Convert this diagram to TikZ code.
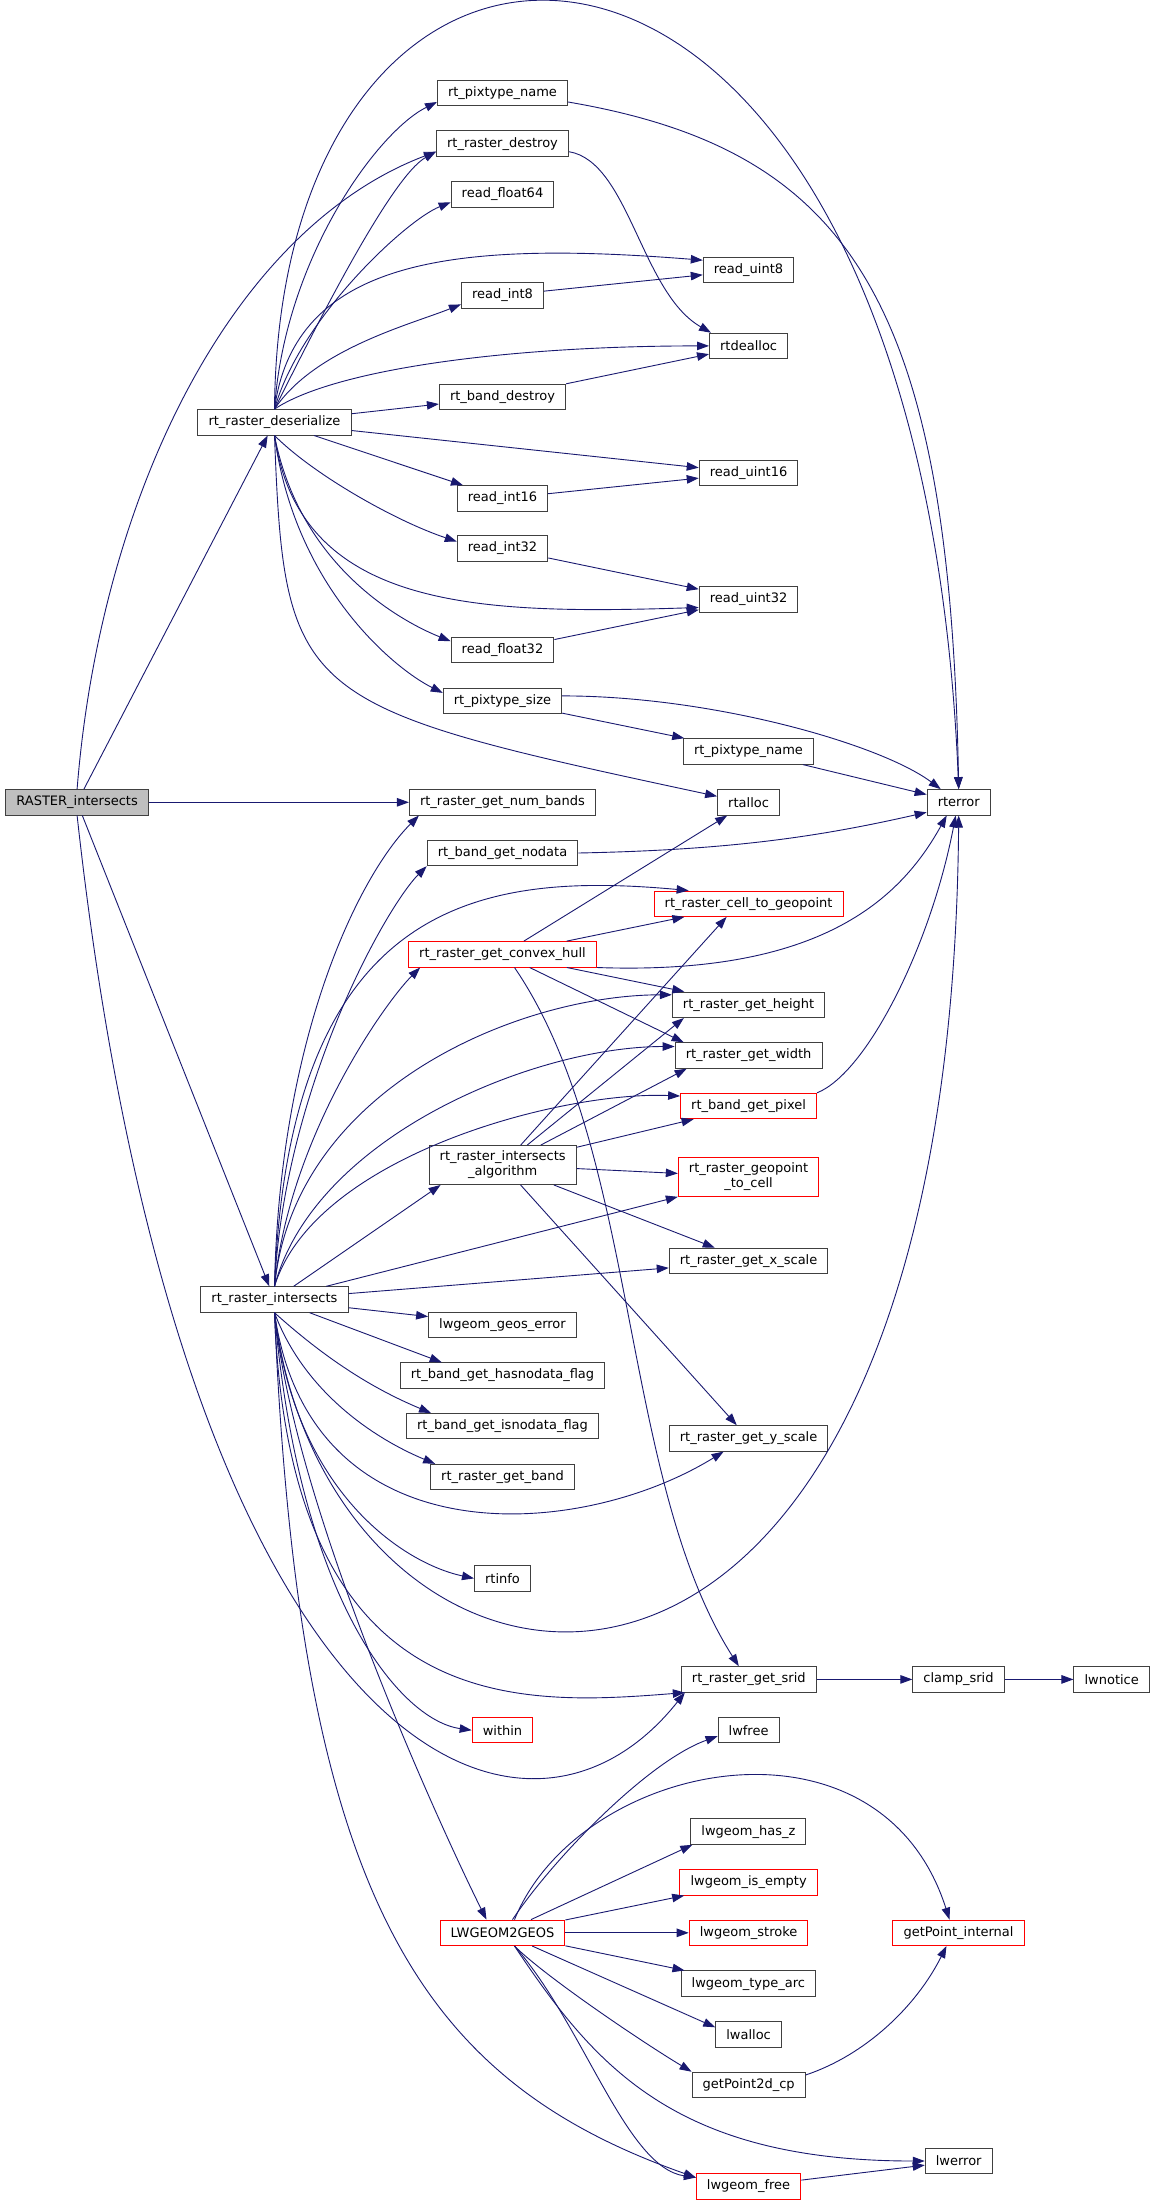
\documentclass[tikz,border=0pt]{standalone}
\usepackage{fontspec}
\setmainfont{DejaVu Sans}
\RequirePackage{xcolor}
\usetikzlibrary{arrows.meta}

\definecolor{edgeblue}{RGB}{25,25,112}
\definecolor{boxgray}{RGB}{191,191,191}

\tikzset{
  fn/.style={draw=black!75, line width=1pt, fill=white, inner xsep=10.6pt, inner ysep=2pt,
    minimum height=25.4pt, font=\fontsize{13}{15}\selectfont, align=center},
  fnred/.style={fn, draw=red},
  fncur/.style={fn, fill=boxgray},
  twoline/.style={inner ysep=5.5pt},
  calls/.style={draw=edgeblue, line width=0.9pt, -{Triangle[length=12pt,width=8.5pt]}},
}

\begin{document}
\begin{tikzpicture}[x=1pt,y=-1pt]
  \path[fill=white, use as bounding box] (0,0) rectangle (1156,2205);

  % callers
  \node[fncur] (ri) at (77.1,802.3) {RASTER\_intersects};
  \node[fn] (des) at (274.5,422.3) {rt\_raster\_deserialize};
  \node[fn] (inter) at (274.5,1299.5) {rt\_raster\_intersects};

  % second column
  \node[fn] (pnA) at (502.5,93) {rt\_pixtype\_name};
  \node[fn] (rdes) at (502.5,143.7) {rt\_raster\_destroy};
  \node[fn] (rf64) at (502.5,194.3) {read\_float64};
  \node[fn] (ri8) at (502.5,295.4) {read\_int8};
  \node[fn] (bdes) at (502.5,397) {rt\_band\_destroy};
  \node[fn] (ri16) at (502.5,498.4) {read\_int16};
  \node[fn] (ri32) at (502.5,548.5) {read\_int32};
  \node[fn] (rf32) at (502.5,650.2) {read\_float32};
  \node[fn] (psize) at (502.5,700.9) {rt\_pixtype\_size};
  \node[fn] (nb) at (502.5,802.3) {rt\_raster\_get\_num\_bands};
  \node[fn] (nodata) at (502.5,853) {rt\_band\_get\_nodata};
  \node[fnred] (hull) at (502.5,954.3) {rt\_raster\_get\_convex\_hull};
  \node[fn,twoline] (algo) at (502.7,1165) {rt\_raster\_intersects\\\_algorithm};
  \node[fn] (geoserr) at (502.5,1324.8) {lwgeom\_geos\_error};
  \node[fn] (hasnd) at (502.5,1375.5) {rt\_band\_get\_hasnodata\_flag};
  \node[fn] (isnd) at (502.5,1426.2) {rt\_band\_get\_isnodata\_flag};
  \node[fn] (band) at (502.5,1477) {rt\_raster\_get\_band};
  \node[fn] (info) at (502.5,1578.4) {rtinfo};
  \node[fnred] (within) at (502.5,1730.2) {within};
  \node[fnred] (l2g) at (502.5,1932.8) {LWGEOM2GEOS};

  % third column
  \node[fn] (ru8) at (748.5,270.2) {read\_uint8};
  \node[fn] (dealloc) at (748.6,345.9) {rtdealloc};
  \node[fn] (ru16) at (748.6,473) {read\_uint16};
  \node[fn] (ru32) at (748.6,599.5) {read\_uint32};
  \node[fn] (pnB) at (748.5,751.4) {rt\_pixtype\_name};
  \node[fn] (alloc) at (748.6,802.3) {rtalloc};
  \node[fnred] (c2g) at (748.6,903.7) {rt\_raster\_cell\_to\_geopoint};
  \node[fn] (height) at (748.6,1004.8) {rt\_raster\_get\_height};
  \node[fn] (width) at (748.6,1055.5) {rt\_raster\_get\_width};
  \node[fnred] (pixel) at (748.6,1106) {rt\_band\_get\_pixel};
  \node[fnred,twoline] (g2c) at (748.6,1176.8) {rt\_raster\_geopoint\\\_to\_cell};
  \node[fn] (xs) at (748.6,1260.9) {rt\_raster\_get\_x\_scale};
  \node[fn] (ys) at (748.6,1438.4) {rt\_raster\_get\_y\_scale};
  \node[fn] (srid) at (748.8,1679.4) {rt\_raster\_get\_srid};
  \node[fn] (lwfree) at (748.6,1730.2) {lwfree};
  \node[fn] (hasz) at (748.4,1831.6) {lwgeom\_has\_z};
  \node[fnred] (isempty) at (748.6,1882.4) {lwgeom\_is\_empty};
  \node[fnred] (stroke) at (748.6,1932.8) {lwgeom\_stroke};
  \node[fn] (arc) at (748.4,1983.6) {lwgeom\_type\_arc};
  \node[fn] (lwalloc) at (748.6,2034.3) {lwalloc};
  \node[fn] (gp2d) at (748.7,2084.9) {getPoint2d\_cp};
  \node[fnred] (lgfree) at (748.6,2186.5) {lwgeom\_free};

  % right columns
  \node[fn] (err) at (958.7,802.3) {rterror};
  \node[fn] (clamp) at (958.5,1679.4) {clamp\_srid};
  \node[fnred] (gpi) at (958.5,1932.8) {getPoint\_internal};
  \node[fn] (lwerror) at (958.7,2161) {lwerror};
  \node[fn] (notice) at (1111.7,1679.4) {lwnotice};

  % straight calls
  \foreach \a/\b in {ri/des, ri/nb, ri/inter, des/bdes, des/ru16, des/ri16, ri8/ru8,
      bdes/dealloc, ri16/ru16, ri32/ru32, rf32/ru32, psize/pnB, pnB/err, hull/alloc,
      hull/c2g, hull/height, algo/pixel, algo/g2c, algo/xs, algo/ys, inter/geoserr,
      l2g/isempty, l2g/stroke, l2g/arc, lgfree/lwerror, srid/clamp, clamp/notice}
    \draw[calls] (\a) -- (\b);

  \draw[calls] (hull) -- ([xshift=9pt]width.north west);
  \draw[calls] (algo) -- ([xshift=-22pt]c2g.south);
  \draw[calls] (algo) -- ([xshift=12pt]height.south west);
  \draw[calls] (algo) -- ([xshift=12pt]width.south west);
  \draw[calls] (inter) -- ([xshift=12pt]algo.south west);
  \draw[calls] (inter) -- (g2c.south west);
  \draw[calls] (inter) -- ([yshift=-7pt]xs.west);
  \draw[calls] (inter) -- ([xshift=42pt]hasnd.north west);
  \draw[calls] (l2g) -- ([xshift=2pt]hasz.south west);
  \draw[calls] (l2g) -- ([yshift=7pt]lwalloc.west);

  % rt_raster_deserialize
  \draw[calls] (des.north) .. controls +(5,-600) and +(-40,-970) .. (err.north);
  \draw[calls] (des.north) .. controls +(10,-150) and +(-60,30) .. ([yshift=-9pt]pnA.west);
  \draw[calls] (des.north) .. controls +(40,-80) and +(-45,25) .. ([yshift=-8pt]rdes.west);
  \draw[calls] (des.north) .. controls +(25,-90) and +(-45,18) .. ([yshift=-8pt]rf64.west);
  \draw[calls] (des.north) .. controls +(20,-150) and +(-250,-20) .. ([yshift=10pt]ru8.west);
  \draw[calls] (des.north) .. controls +(40,-60) and +(-50,20) .. ([yshift=-9pt]ri8.west);
  \draw[calls] (des.north) .. controls +(60,-40) and +(-200,0) .. (dealloc.west);
  \draw[calls] (des.south) .. controls +(40,40) and +(-60,-20) .. ([yshift=7pt]ri32.west);
  \draw[calls] (des.south) .. controls +(25,175) and +(-219,7) .. ([yshift=-8pt]ru32.west);
  \draw[calls] (des.south) .. controls +(25,130) and +(-50,-20) .. ([yshift=9pt]rf32.west);
  \draw[calls] (des.south) .. controls +(20,150) and +(-50,-25) .. ([yshift=8pt]psize.west);
  \draw[calls] (des.south) .. controls +(10,265) and +(-420,-90) .. ([yshift=6pt]alloc.west);

  % RASTER_intersects
  \draw[calls] (ri.north) .. controls +(23,-290) and +(-206,78) .. ([yshift=-8pt]rdes.west);
  \draw[calls] (ri.south) .. controls +(103,935) and +(-165,208) .. ([xshift=4pt]srid.south west);

  % to rterror and rtdealloc
  \draw[calls] ([yshift=-9pt]pnA.east) .. controls +(281,48) and +(-9,-490) .. (err.north);
  \draw[calls] ([yshift=-8pt]rdes.east) .. controls +(60,10) and +(-70,-40) .. ([xshift=2pt]dealloc.north west);
  \draw[calls] ([yshift=5pt]psize.east) .. controls +(150,0) and +(-60,-45) .. ([xshift=-18pt]err.north);
  \draw[calls] (nodata.east) .. controls +(150,-3) and +(-110,25) .. ([yshift=-10pt]err.west);
  \draw[calls] (hull.south east) .. controls +(222,8) and +(-47,85) .. ([xshift=-12pt]err.south);
  \draw[calls] (pixel.north east) .. controls +(50,-20) and +(-25,130) .. ([xshift=-3pt]err.south);
  \draw[calls] (inter.south) .. controls +(55,448) and +(-9,1035) .. (err.south);
  \draw[calls] ([xshift=12pt]hull.south) .. controls +(125,183) and +(-119,-187) .. ([xshift=-10pt]srid.north);

  % rt_raster_intersects
  \draw[calls] (inter.north) .. controls +(5,-250) and +(-60,60) .. ([xshift=10pt]nb.south west);
  \draw[calls] (inter.north) .. controls +(10,-200) and +(-40,40) .. (nodata.south west);
  \draw[calls] (inter.north) .. controls +(15,-387) and +(-208,-19) .. ([xshift=35pt]c2g.north west);
  \draw[calls] (inter.north) .. controls +(15,-150) and +(-35,35) .. ([xshift=12pt]hull.south west);
  \draw[calls] (inter.north) .. controls +(20,-200) and +(-150,0) .. ([yshift=10pt]height.west);
  \draw[calls] (inter.north) .. controls +(40,-150) and +(-140,0) .. ([yshift=9pt]width.west);
  \draw[calls] (inter.north) .. controls +(40,-130) and +(-120,-5) .. ([yshift=10pt]pixel.west);
  \draw[calls] (inter.south) .. controls +(50,45) and +(-60,-25) .. ([xshift=25pt]isnd.north west);
  \draw[calls] (inter.south) .. controls +(30,80) and +(-60,-25) .. ([xshift=5pt]band.north west);
  \draw[calls] (inter.south) .. controls +(35,248) and +(-144,89) .. ([xshift=-25pt]ys.south);
  \draw[calls] (inter.south) .. controls +(20,180) and +(-70,-15) .. (info.west);
  \draw[calls] (inter.south) .. controls +(15,408) and +(-165,13) .. ([xshift=4pt]srid.south west);
  \draw[calls] (inter.south) .. controls +(25,288) and +(-71,-10) .. (within.west);
  \draw[calls] (inter.south) .. controls +(20,200) and +(-40,-80) .. ([xshift=-16pt]l2g.north);
  \draw[calls] (inter.south) .. controls +(25,588) and +(-275,-97) .. ([yshift=9pt]lgfree.west);

  % LWGEOM2GEOS
  \draw[calls] ([xshift=10pt]l2g.north) .. controls +(40,-60) and +(-70,25) .. ([yshift=-6pt]lwfree.west);
  \draw[calls] ([xshift=12pt]l2g.north) .. controls +(65,-160) and +(-70,-220) .. ([xshift=-9pt]gpi.north);
  \draw[calls] ([xshift=12pt]l2g.south) .. controls +(30,30) and +(-50,-30) .. (gp2d.north west);
  \draw[calls] ([xshift=12pt]l2g.south) .. controls +(70,80) and +(-70,-10) .. ([yshift=9pt]lgfree.west);
  \draw[calls] ([xshift=12pt]l2g.south) .. controls +(80,120) and +(-250,0) .. (lwerror.west);
  \draw[calls] ([yshift=10pt]gp2d.east) .. controls +(60,-20) and +(-30,60) .. ([xshift=-12pt]gpi.south);

\end{tikzpicture}
\end{document}
